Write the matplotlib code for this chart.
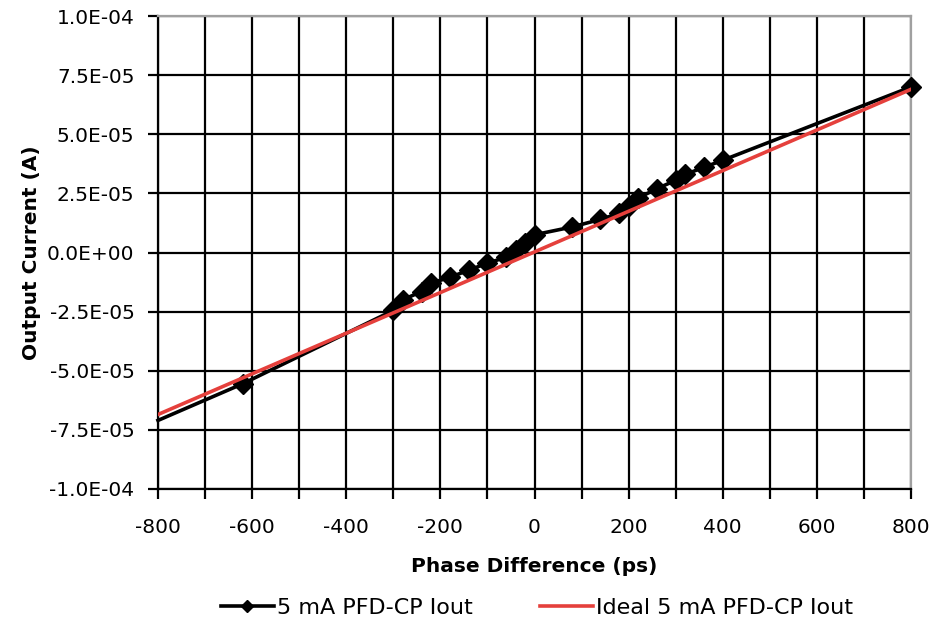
import matplotlib
matplotlib.use("Agg")
import matplotlib.pyplot as plt
import numpy as np

plt.rcParams['font.family'] = ['DejaVu Sans']
plt.rcParams['axes.unicode_minus'] = False

# measured 5 mA PFD-CP output current (first point has no marker)
phase = [-800, -620, -300, -280, -240, -220, -180, -140, -100, -60, -40, -20, 0,
         80, 140, 180, 200, 220, 260, 300, 320, 360, 400, 800]
iout = [-7.1e-05, -5.55e-05, -2.45e-05, -2.0e-05, -1.65e-05, -1.3e-05, -1.05e-05,
        -0.75e-05, -0.45e-05, -0.2e-05, 0.1e-05, 0.4e-05, 0.75e-05,
        1.08e-05, 1.4e-05, 1.65e-05, 1.95e-05, 2.3e-05, 2.7e-05, 3.05e-05,
        3.3e-05, 3.6e-05, 3.9e-05, 7.0e-05]

# ideal line
ideal_x = [-800, 800]
ideal_y = [-6.85e-05, 6.9e-05]

xticks = list(range(-800, 801, 100))
xlabels = [str(v) if v % 200 == 0 else "" for v in xticks]
yticks = np.arange(-1.0e-04, 1.01e-04, 2.5e-05)
ylabels = ["{:.1E}".format(0.0 if abs(v) < 1e-12 else v) for v in yticks]

fig = plt.figure(figsize=(9.33, 6.24), dpi=100)
ax = fig.add_axes([158/933, 1-489/624, (911-158)/933, (489-16)/624])

ax.plot(phase, iout, color="black", lw=2.6, marker="D", markersize=10,
        markevery=list(range(1, len(phase))), label="5 mA PFD-CP Iout", zorder=3, clip_on=False)
ax.plot(ideal_x, ideal_y, color="#E5403C", lw=2.6, label="Ideal 5 mA PFD-CP Iout", zorder=4)

ax.set_xlim(-800, 800)
ax.set_ylim(-1.0e-04, 1.0e-04)
ax.set_xticks(xticks)
ax.set_xticklabels(xlabels)
ax.set_yticks(yticks)
ax.set_yticklabels(ylabels)
ax.grid(True, color="black", lw=1.6)
ax.set_axisbelow(True)
ax.tick_params(axis="both", labelsize=14.5, length=7, width=1.6, direction="out")
ax.tick_params(axis="x", pad=14)
ax.tick_params(axis="y", pad=10)

for s in ["top", "right"]:
    ax.spines[s].set_color("#A0A0A0")
    ax.spines[s].set_linewidth(1.6)
for s in ["left", "bottom"]:
    ax.spines[s].set_color("black")
    ax.spines[s].set_linewidth(1.6)

ax.set_xlabel("Phase Difference (ps)", fontsize=14.5, fontweight="bold", labelpad=14)
ax.set_ylabel("Output Current (A)", fontsize=14.5, fontweight="bold", labelpad=4)

fig.legend(loc="center", bbox_to_anchor=(537/933, 1-608/624), ncol=2, frameon=False,
           fontsize=16, handlelength=2.4, handletextpad=0.15, columnspacing=3.0,
           markerscale=0.6)

fig.savefig("out.png", dpi=100)
